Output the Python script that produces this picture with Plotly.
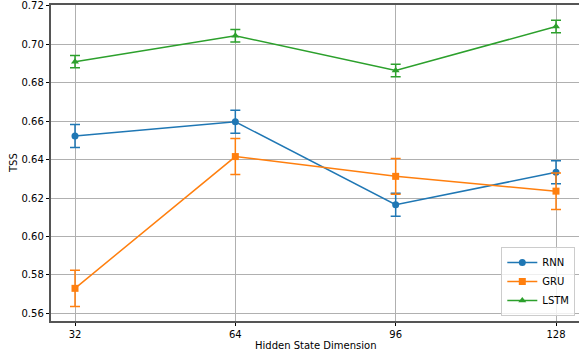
import plotly.graph_objects as go

dims = [32, 64, 96, 128]
rnn = [0.6523, 0.6597, 0.6165, 0.6334]
rnn_err = [0.0060, 0.0060, 0.0060, 0.0060]
gru = [0.5730, 0.6416, 0.6313, 0.6236]
gru_err = [0.0094, 0.0094, 0.0093, 0.0095]
lstm = [0.6910, 0.7045, 0.6864, 0.7093]
lstm_err = [0.0032, 0.0033, 0.0033, 0.0033]
y_ticks = [0.56, 0.58, 0.60, 0.62, 0.64, 0.66, 0.68, 0.70, 0.72]

series = [
    ("RNN", rnn, rnn_err, "#1f77b4", "circle"),
    ("GRU", gru, gru_err, "#ff7f0e", "square"),
    ("LSTM", lstm, lstm_err, "#2ca02c", "triangle-up"),
]

fig = go.Figure()
for name, vals, errs, color, sym in series:
    fig.add_trace(go.Scatter(
        x=dims, y=vals, name=name, mode="lines+markers",
        line=dict(color=color, width=1.5),
        marker=dict(color=color, symbol=sym, size=7),
        error_y=dict(type="data", array=errs, visible=True, color=color,
                     thickness=1.5, width=5),
    ))

font = dict(family="DejaVu Sans", size=10, color="#000000")
fig.update_layout(
    width=579, height=353,
    margin=dict(l=51, r=0, t=5, b=32, autoexpand=False),
    paper_bgcolor="white", plot_bgcolor="white",
    font=font,
    showlegend=True,
    legend=dict(x=0.993, y=0.016, xanchor="right", yanchor="bottom",
                bgcolor="rgba(255,255,255,0.8)", bordercolor="#cccccc", borderwidth=1,
                font=dict(family="DejaVu Sans", size=10), itemwidth=30,
                tracegroupgap=0),
    xaxis=dict(
        range=[27.21, 132.59], tickvals=dims, ticktext=[str(d) for d in dims],
        showgrid=True, gridcolor="#b0b0b0", gridwidth=1,
        showline=True, linecolor="#555555", linewidth=1.5, mirror=True,
        ticks="outside", ticklen=3.5, tickcolor="#000000", zeroline=False,
        automargin=False,
    ),
    yaxis=dict(
        range=[0.556, 0.7205], tickvals=y_ticks, tickformat=".2f",
        showgrid=True, gridcolor="#b0b0b0", gridwidth=1,
        showline=True, linecolor="#555555", linewidth=1.5, mirror=True,
        ticks="outside", ticklen=3.5, tickcolor="#000000", zeroline=False,
        automargin=False,
    ),
    annotations=[
        dict(text="Hidden State Dimension", xref="paper", yref="paper",
             x=0.5, y=-0.078, xanchor="center", yanchor="middle",
             showarrow=False, font=font),
        dict(text="TSS", xref="paper", yref="paper",
             x=-0.072, y=0.5, xanchor="center", yanchor="middle",
             textangle=-90, showarrow=False, font=font),
    ],
)

fig.write_html("out.html", config={"displayModeBar": False},
               post_script="document.body.style.margin='0';document.body.style.overflow='hidden';")
